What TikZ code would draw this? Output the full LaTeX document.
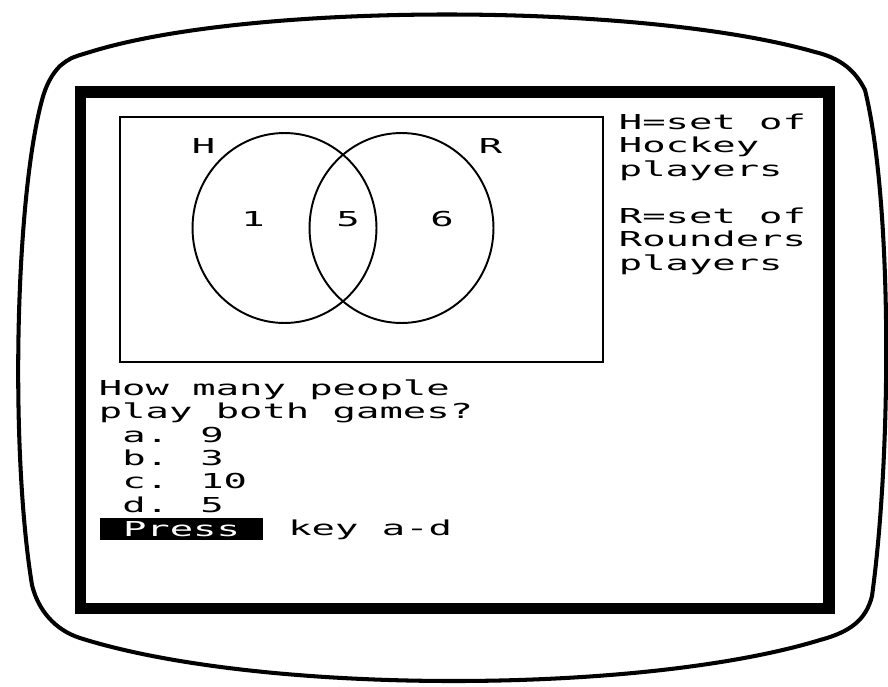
\documentclass[tikz,border=0pt]{standalone}
\usepackage{fontspec}
\usepackage{tikz}
\usetikzlibrary{positioning}
\newfontfamily\zxfont[FakeStretch=1.89]{DejaVu Sans Mono}
\newcommand{\zxtext}{\zxfont\fontsize{11.7pt}{13.4pt}\selectfont}

\begin{document}
\begin{tikzpicture}[x=0.02cm, y=-0.02cm,
    screenText/.style={font=\zxtext, anchor=base west, inner sep=0pt, text=black},
    pressBox/.style={rectangle, fill=black, text=white, font=\zxtext, inner sep=0pt, minimum width=3.26cm, minimum height=0.44cm},
    vennLine/.style={draw=black, line width=1.1pt},
    monitorLine/.style={draw=black, line width=2.3pt, line join=round}
]
    \useasboundingbox (0,0) rectangle (888,686);

    % Monitor
    \draw[monitorLine] (60,66) .. controls (70,58) .. (90,52)
        .. controls (250,2) and (640,2) .. (815,52)
        .. controls (840,58) and (855,70) .. (865,90)
        .. controls (892,200) and (892,450) .. (872,596)
        .. controls (866,620) and (850,632) .. (820,640)
        .. controls (640,695) and (260,695) .. (80,638)
        .. controls (55,630) and (38,610) .. (32,585)
        .. controls (10,450) and (15,200) .. (42,100)
        .. controls (46,85) and (52,74) .. cycle;
    \draw[line width=6.8pt] (80.5,92) rectangle (829,608.5);

    % Diagramma di Venn
    \draw[vennLine] (120,117) rectangle (603,362);
    \draw[vennLine] (284.5,228) ellipse [x radius=1.84cm, y radius=1.9cm];
    \draw[vennLine] (401.5,228) ellipse [x radius=1.84cm, y radius=1.9cm];
    \node[screenText] (setH) at (191.5,153) {H};
    \node[screenText] (setR) at (478.5,153) {R};
    \node[screenText] (onlyH) at (241,226) {1};
    \node[screenText] (both) at (336,226) {5};
    \node[screenText] (onlyR) at (430,226) {6};

    % Legenda
    \node[screenText] (hLine1) at (618.5,129) {H=set of};
    \node[screenText] (hLine2) at (618.5,152.5) {Hockey};
    \node[screenText] (hLine3) at (618.5,176) {players};
    \node[screenText] (rLine1) at (618.5,223) {R=set of};
    \node[screenText] (rLine2) at (618.5,246.5) {Rounders};
    \node[screenText] (rLine3) at (618.5,270) {players};

    % Domanda
    \node[screenText] (question1) at (98.5,395) {How many people};
    \node[screenText] (question2) at (98.5,418) {play both games?};
    \node[screenText] (optA) at (122,442) {a. 9};
    \node[screenText] (optB) at (122,465) {b. 3};
    \node[screenText] (optC) at (122,488) {c. 10};
    \node[screenText] (optD) at (122,512) {d. 5};

    \node[pressBox] (pressBtn) at (181.5,529) {Press};
    \node[screenText] (keyHint) at (288,535) {key a-d};
\end{tikzpicture}
\end{document}
